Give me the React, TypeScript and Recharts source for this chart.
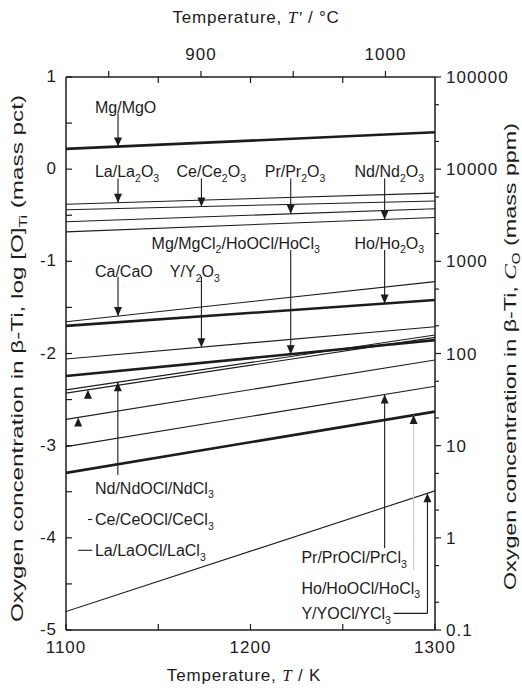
import React from "react"
import { LineChart, Line, XAxis, YAxis, ReferenceLine, ReferenceDot } from "recharts"

const FONT = '"Liberation Sans", Arial, Helvetica, sans-serif'
const INK = "#1c1c1c"

// temperature span of every line, K
const tempK = [1100, 1300]

// log[O]Ti (mass pct) at 1100 K and at 1300 K
const mgMgO = [0.22, 0.4]
const laLa2O3 = [-0.38, -0.26]
const ceCe2O3 = [-0.44, -0.345]
const prPr2O3 = [-0.57, -0.43]
const ndNd2O3 = [-0.68, -0.525]
const caCaO = [-1.655, -1.22]
const hoHo2O3 = [-1.7, -1.42]
const yY2O3 = [-2.06, -1.71]
const mgMgCl2HoOCl = [-2.245, -1.855]
const ndNdOCl = [-2.395, -1.8]
const ceCeOCl = [-2.43, -1.825]
const laLaOCl = [-2.715, -2.07]
const prPrOCl = [-3.01, -2.355]
const hoHoOCl = [-3.295, -2.63]
const yYOCl = [-4.8, -3.49]

// axis ticks
const kelvinTicks = [1100, 1150, 1200, 1250, 1300]
const kelvinLabels = [1100, 1200, 1300]
const celsiusTicks = [850, 900, 950, 1000]
const celsiusLabels = [900, 1000]
const logTicks = [-5, -4.5, -4, -3.5, -3, -2.5, -2, -1.5, -1, -0.5, 0, 0.5, 1]
const logLabels = [-5, -4, -3, -2, -1, 0, 1]
const ppmTicks = [0.1, 0.2, 0.5, 1, 2, 5, 10, 20, 50, 100, 200, 500, 1000, 2000, 5000, 10000, 20000, 50000, 100000]
const ppmLabels = [0.1, 1, 10, 100, 1000, 10000, 100000]

const ZERO_C = 273.15

// top axis works in K too; °C ticks are converted, inner K ticks are mirrored
const topTicks = [...celsiusTicks.map((c) => c + ZERO_C), ...kelvinTicks.slice(1, -1)].sort((a, b) => a - b)

const lines = [
  { name: "Mg/MgO", values: mgMgO, thick: true },
  { name: "La/La2O3", values: laLa2O3, thick: false },
  { name: "Ce/Ce2O3", values: ceCe2O3, thick: false },
  { name: "Pr/Pr2O3", values: prPr2O3, thick: false },
  { name: "Nd/Nd2O3", values: ndNd2O3, thick: false },
  { name: "Ca/CaO", values: caCaO, thick: false },
  { name: "Ho/Ho2O3", values: hoHo2O3, thick: true },
  { name: "Y/Y2O3", values: yY2O3, thick: false },
  { name: "Mg/MgCl2/HoOCl/HoCl3", values: mgMgCl2HoOCl, thick: true },
  { name: "Nd/NdOCl/NdCl3", values: ndNdOCl, thick: false },
  { name: "Ce/CeOCl/CeCl3", values: ceCeOCl, thick: false },
  { name: "La/LaOCl/LaCl3", values: laLaOCl, thick: false },
  { name: "Pr/PrOCl/PrCl3", values: prPrOCl, thick: false },
  { name: "Ho/HoOCl/HoCl3", values: hoHoOCl, thick: true },
  { name: "Y/YOCl/YCl3", values: yYOCl, thick: false },
]

// callouts, placed in data units (T in K, log[O])
type Note = {
  text: string
  line: number[]
  T: number
  dir: "down" | "up"
  stemFrom?: number
  stemColor?: string
  hook?: [number, number]
  labelT: number
  labelV: number
}

const notes: Note[] = [
  { text: "Mg/MgO", line: mgMgO, T: 1128.2, dir: "down", stemFrom: 0.606, labelT: 1115.7, labelV: 0.674 },
  { text: "La/La{2}O{3}", line: laLa2O3, T: 1128.2, dir: "down", stemFrom: -0.1, labelT: 1115.7, labelV: -0.02 },
  { text: "Ce/Ce{2}O{3}", line: ceCe2O3, T: 1173.4, dir: "down", stemFrom: -0.1, labelT: 1159.9, labelV: -0.02 },
  { text: "Pr/Pr{2}O{3}", line: prPr2O3, T: 1221.8, dir: "down", stemFrom: -0.1, labelT: 1207.7, labelV: -0.02 },
  { text: "Nd/Nd{2}O{3}", line: ndNd2O3, T: 1272.7, dir: "down", stemFrom: -0.1, labelT: 1256.4, labelV: -0.02 },
  { text: "Mg/MgCl{2}/HoOCl/HoCl{3}", line: mgMgCl2HoOCl, T: 1221.8, dir: "down", stemFrom: -0.877, labelT: 1146.4, labelV: -0.796 },
  { text: "Ho/Ho{2}O{3}", line: hoHo2O3, T: 1272.7, dir: "down", stemFrom: -0.877, labelT: 1256.4, labelV: -0.796 },
  { text: "Ca/CaO", line: caCaO, T: 1128.2, dir: "down", stemFrom: -1.167, labelT: 1115.7, labelV: -1.105 },
  { text: "Y/Y{2}O{3}", line: yY2O3, T: 1173.4, dir: "down", stemFrom: -1.167, labelT: 1156.3, labelV: -1.105 },
  { text: "Nd/NdOCl/NdCl{3}", line: ndNdOCl, T: 1128.1, dir: "up", stemFrom: -3.318, labelT: 1115.7, labelV: -3.454 },
  { text: "Ce/CeOCl/CeCl{3}", line: ceCeOCl, T: 1111.9, dir: "up", hook: [1111.9, 1114.2], labelT: 1115.7, labelV: -3.801 },
  { text: "La/LaOCl/LaCl{3}", line: laLaOCl, T: 1106.6, dir: "up", hook: [1106.6, 1114.2], labelT: 1115.7, labelV: -4.135 },
  { text: "Pr/PrOCl/PrCl{3}", line: prPrOCl, T: 1272.7, dir: "up", stemFrom: -4.11, labelT: 1227.6, labelV: -4.21 },
  { text: "Ho/HoOCl/HoCl{3}", line: hoHoOCl, T: 1288.4, dir: "up", stemFrom: -4.35, stemColor: "#c8c8c8", labelT: 1227.6, labelV: -4.54 },
  { text: "Y/YOCl/YCl{3}", line: yYOCl, T: 1295.9, dir: "up", stemFrom: -4.82, hook: [1277.5, 1295.9], labelT: 1227.6, labelV: -4.82 },
]

const rows = (values: number[]) => tempK.map((T, i) => ({ T, v: values[i] }))
const valueAt = (values: number[], T: number) =>
  values[0] + ((values[1] - values[0]) * (T - tempK[0])) / (tempK[1] - tempK[0])

function Rich({ text, x, y, size = 16 }: { text: string; x: number; y: number; size?: number }) {
  const parts = text.split(/(\{[^}]*\})/).filter(Boolean)
  let low = false
  return (
    <text x={x} y={y} fontSize={size} fontFamily={FONT} fill={INK}>
      {parts.map((p, i) => {
        if (p.startsWith("{")) {
          low = true
          return (
            <tspan key={i} fontSize={size * 0.66} dy={size * 0.3}>
              {p.slice(1, -1)}
            </tspan>
          )
        }
        const dy = low ? -size * 0.3 : undefined
        low = false
        return (
          <tspan key={i} dy={dy}>
            {p}
          </tspan>
        )
      })}
    </text>
  )
}

const near = (a: number, list: number[]) => list.some((b) => Math.abs(a - b) < 0.01)

function BottomTick(props: any) {
  const { x, y, payload } = props
  return (
    <g>
      <line x1={x} y1={y} x2={x} y2={y - 6} stroke={INK} strokeWidth={1.2} />
      {near(payload.value, kelvinLabels) && (
        <text x={x} y={y + 23} textAnchor="middle" fontSize={17} fontFamily={FONT} fill={INK} letterSpacing={1}>
          {payload.value}
        </text>
      )}
    </g>
  )
}

function TopTick(props: any) {
  const { x, y, payload } = props
  const c = payload.value - ZERO_C
  const celsius = near(c, celsiusTicks)
  return (
    <g>
      <line x1={x} y1={y} x2={x} y2={celsius ? y - 6 : y + 6} stroke={INK} strokeWidth={1.2} />
      {near(c, celsiusLabels) && (
        <text x={x} y={y - 17} textAnchor="middle" fontSize={17} fontFamily={FONT} fill={INK} letterSpacing={1}>
          {Math.round(c)}
        </text>
      )}
    </g>
  )
}

function LeftTick(props: any) {
  const { x, y, payload } = props
  return (
    <g>
      <line x1={x} y1={y} x2={x + 6} y2={y} stroke={INK} strokeWidth={1.2} />
      {near(payload.value, logLabels) && (
        <text x={x - 9} y={y + 5} textAnchor="end" fontSize={17} fontFamily={FONT} fill={INK} letterSpacing={1}>
          {payload.value}
        </text>
      )}
    </g>
  )
}

function RightTick(props: any) {
  const { x, y, payload } = props
  const major = ppmLabels.some((b) => Math.abs(payload.value / b - 1) < 0.01)
  return (
    <g>
      <line x1={x} y1={y} x2={x + (major ? 6 : 4)} y2={y} stroke={INK} strokeWidth={1.2} />
      {major && (
        <text x={x + 11} y={y + 6} fontSize={17} fontFamily={FONT} fill={INK} letterSpacing={1}>
          {payload.value}
        </text>
      )}
    </g>
  )
}

const ITALIC = "'Liberation Serif', serif"

const TopTitle = () => (
  <text x={256} y={23} textAnchor="middle" fontSize={17} fontFamily={FONT} fill={INK} letterSpacing={0.8}>
    Temperature, <tspan fontStyle="italic" fontFamily={ITALIC}>T'</tspan> / °C
  </text>
)

const BottomTitle = () => (
  <text x={244} y={681} textAnchor="middle" fontSize={17} fontFamily={FONT} fill={INK} letterSpacing={0.8}>
    Temperature, <tspan fontStyle="italic" fontFamily={ITALIC}>T</tspan> / K
  </text>
)

const LeftTitle = () => (
  <text
    transform="translate(23,622) rotate(-90)"
    fontSize={17}
    fontFamily={FONT}
    fill={INK}
    textLength={527}
    lengthAdjust="spacingAndGlyphs"
  >
    Oxygen concentration in β-Ti, log [O]
    <tspan fontSize={11} dy={4}>Ti</tspan>
    <tspan dy={-4}> (mass pct)</tspan>
  </text>
)

const RightTitle = () => (
  <text
    transform="translate(516,590) rotate(-90)"
    fontSize={17}
    fontFamily={FONT}
    fill={INK}
    textLength={467}
    lengthAdjust="spacingAndGlyphs"
  >
    Oxygen concentration in β-Ti, <tspan fontStyle="italic" fontFamily={ITALIC}>C</tspan>
    <tspan fontSize={11} dy={4}>O</tspan>
    <tspan dy={-4}> (mass ppm)</tspan>
  </text>
)

function Arrowhead({ cx, cy, dir }: { cx: number; cy: number; dir: "down" | "up" }) {
  const h = dir === "down" ? -9 : 9
  return <polygon points={`${cx - 4},${cy + h} ${cx + 4},${cy + h} ${cx},${cy}`} fill={INK} />
}

export default function App() {
  return (
    <div style={{ width: 522, height: 688 }}>
      <style>{"body{margin:0}"}</style>
      <LineChart width={522} height={688} margin={{ top: 0, right: 0, bottom: 0, left: 0 }}>
        <XAxis
          dataKey="T"
          type="number"
          domain={[1100, 1300]}
          ticks={kelvinTicks}
          interval={0}
          height={58}
          tickSize={0}
          tickMargin={0}
          tick={<BottomTick />}
          axisLine={{ stroke: INK, strokeWidth: 1.5 }}
          allowDataOverflow
          label={{ content: BottomTitle }}
        />
        <XAxis
          xAxisId="top"
          dataKey="T"
          orientation="top"
          type="number"
          domain={[1100, 1300]}
          ticks={topTicks}
          interval={0}
          height={77}
          tickSize={0}
          tickMargin={0}
          tick={<TopTick />}
          axisLine={{ stroke: INK, strokeWidth: 1.5 }}
          allowDataOverflow
          label={{ content: TopTitle }}
        />
        <YAxis
          yAxisId="left"
          type="number"
          domain={[-5, 1]}
          ticks={logTicks}
          interval={0}
          width={66}
          tickSize={0}
          tickMargin={0}
          tick={<LeftTick />}
          axisLine={{ stroke: INK, strokeWidth: 1.5 }}
          allowDataOverflow
          label={{ content: LeftTitle }}
        />
        <YAxis
          yAxisId="right"
          orientation="right"
          type="number"
          scale="log"
          domain={[0.1, 100000]}
          ticks={ppmTicks}
          interval={0}
          width={87}
          tickSize={0}
          tickMargin={0}
          tick={<RightTick />}
          axisLine={{ stroke: INK, strokeWidth: 1.5 }}
          allowDataOverflow
          label={{ content: RightTitle }}
        />

        {lines.map((l, i) => (
          <Line
            key={l.name}
            name={l.name}
            data={rows(l.values)}
            dataKey="v"
            xAxisId={i === 0 ? "top" : 0}
            yAxisId="left"
            type="linear"
            stroke={INK}
            strokeWidth={l.thick ? 2.6 : 1.1}
            dot={false}
            activeDot={false}
            isAnimationActive={false}
          />
        ))}

        {notes.map((n) => {
          const tip = valueAt(n.line, n.T)
          return (
            <React.Fragment key={n.text}>
              {n.stemFrom !== undefined && (
                <ReferenceLine
                  yAxisId="left"
                  segment={[
                    { x: n.T, y: n.stemFrom },
                    { x: n.T, y: tip },
                  ]}
                  stroke={n.stemColor ?? INK}
                  strokeWidth={1.1}
                />
              )}
              {n.hook && (
                <ReferenceLine
                  yAxisId="left"
                  segment={[
                    { x: n.hook[0], y: n.labelV },
                    { x: n.hook[1], y: n.labelV },
                  ]}
                  stroke={INK}
                  strokeWidth={1.1}
                />
              )}
              <ReferenceDot
                yAxisId="left"
                x={n.T}
                y={tip}
                r={0}
                shape={(p: any) => <Arrowhead cx={p.cx} cy={p.cy} dir={n.dir} />}
              />
              <ReferenceDot
                yAxisId="left"
                x={n.labelT}
                y={n.labelV}
                r={0}
                shape={(p: any) => <Rich text={n.text} x={p.cx} y={p.cy + 6} />}
              />
            </React.Fragment>
          )
        })}
      </LineChart>
    </div>
  )
}
